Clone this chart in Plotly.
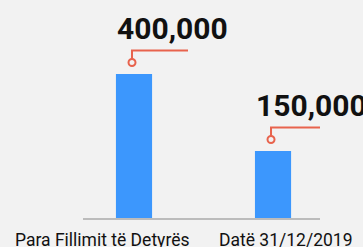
import plotly.graph_objects as go

categories = ["Para Fillimit të Detyrës", "Datë 31/12/2019"]
values = [400000, 150000]

bar_color = "#3c97fd"
accent = "#e8634d"
bg = "#f2f2f2"
num_font = "Roboto"
lab_font = "Roboto"

y_min = -67500
y_max = 640000

fig = go.Figure(go.Bar(
    x=categories, y=[v - y_min for v in values], base=y_min,
    marker=dict(color=bar_color, line=dict(width=0)),
    width=0.26, hoverinfo="skip",
))

shapes = []
annotations = []
for i, (c, v) in enumerate(zip(categories, values)):
    shapes.append(dict(type="circle", xref="x", yref="y", xsizemode="pixel", ysizemode="pixel",
                       xanchor=c, yanchor=v, x0=-5.5, x1=1.5, y0=8, y1=15,
                       line=dict(color=accent, width=2), fillcolor=bg))
    shapes.append(dict(type="path", xref="x", yref="y", xsizemode="pixel", ysizemode="pixel",
                       xanchor=c, yanchor=v, path="M -2 15 L -2 23.5 L 54 23.5",
                       line=dict(color=accent, width=2)))
    annotations.append(dict(x=c, y=v, xref="x", yref="y", text=f"{v:,}", showarrow=False,
                            xshift=38, yshift=45,
                            font=dict(family=num_font, size=30, color="#111", weight="bold"),
                            xanchor="center", yanchor="middle"))

annotations.append(dict(x=categories[0], y=0, xref="x", yref="paper", text=categories[0],
                        showarrow=False, xanchor="center", yanchor="top", xshift=-32, yshift=-10,
                        font=dict(family=lab_font, size=17.5, color="#111")))
annotations.append(dict(x=categories[1], y=0, xref="x", yref="paper", text=categories[1],
                        showarrow=False, xanchor="left", yanchor="top", xshift=-56, yshift=-10,
                        font=dict(family=lab_font, size=17.5, color="#111")))

fig.update_layout(
    width=363, height=247,
    margin=dict(l=83, r=43, t=0, b=29),
    paper_bgcolor=bg, plot_bgcolor=bg,
    showlegend=False,
    shapes=shapes, annotations=annotations,
    xaxis=dict(range=[-0.367, 1.338], showticklabels=False, showgrid=False, zeroline=False,
               showline=True, linecolor="#bcbcbc", linewidth=2, ticks=""),
    yaxis=dict(range=[y_min, y_max], visible=False, showgrid=False, zeroline=False),
)

fig.write_html("out.html", config={"displayModeBar": False},
               post_script="document.body.style.margin='0';document.body.style.background='#f2f2f2';")
